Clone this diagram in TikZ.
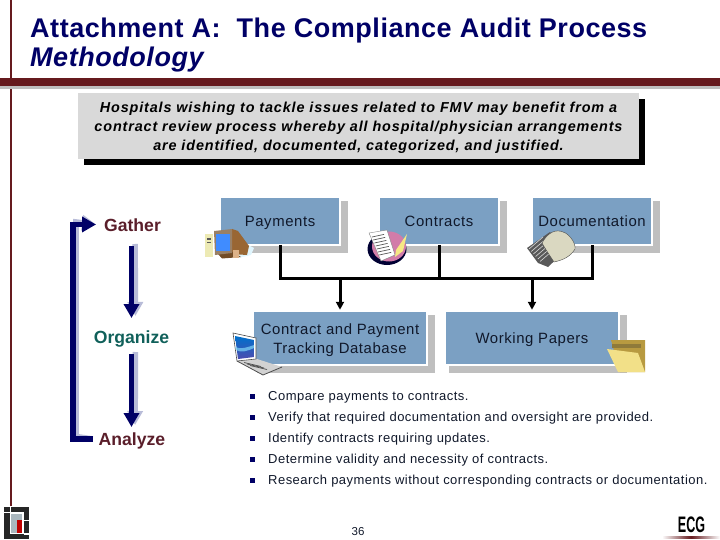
\documentclass[tikz,border=0pt]{standalone}
\usepackage{fontspec}
\setmainfont{Liberation Sans}
\newfontfamily\boxf[LetterSpace=4]{Liberation Sans}
\newfontfamily\listf[LetterSpace=3.7]{Liberation Sans}
\newfontfamily\callf[LetterSpace=6]{Liberation Sans}
\newfontfamily\titlef[LetterSpace=2]{Liberation Sans}
\usetikzlibrary{arrows.meta,backgrounds,calc}
\definecolor{navy}{HTML}{000066}
\definecolor{bar}{HTML}{661A1E}
\definecolor{boxblue}{HTML}{7BA0C3}
\definecolor{shadowgray}{HTML}{BFBFBF}
\definecolor{callgray}{HTML}{D9D9D9}
\definecolor{maroon}{HTML}{5A1E2A}
\definecolor{teal2}{HTML}{10605A}
\definecolor{arrowshade}{HTML}{B8BCD8}
\definecolor{ink}{HTML}{10182A}
\definecolor{folderback}{HTML}{B89A40}
\definecolor{folderstripe}{HTML}{8F7A3A}
\definecolor{folderfront}{HTML}{F2E088}
\tikzset{
  titletext/.style={anchor=base west,inner sep=0,text=navy,font=\titlef\bfseries\fontsize{27}{30}\selectfont},
  calltext/.style={align=center,inner sep=0,font=\callf\bfseries\itshape\fontsize{14.4}{19}\selectfont,text=black},
  stage/.style={inner sep=0,font=\bfseries\fontsize{17.6}{20}\selectfont},
  bluebox/.style={fill=boxblue,draw=white,line width=1.5pt,align=center,inner sep=0,outer sep=0,text=ink,font=\boxf\fontsize{14.9}{19}\selectfont},
  flow/.style={line width=3pt,draw=black},
  flowtip/.style={flow,-{Triangle[length=8pt,width=8pt]},shorten >=1.5pt},
  fat/.style={line width=5.6pt,draw=navy,-{Triangle[length=14pt,width=15pt]}},
  fatshade/.style={line width=5.6pt,draw=arrowshade,-{Triangle[length=14pt,width=15pt]}},
  listtext/.style={anchor=west,inner sep=0,text=ink,font=\listf\fontsize{13}{15}\selectfont},
  sq/.style={fill=navy,minimum size=5pt,inner sep=0}
}
\newcommand{\shadowof}[1]{\fill[shadowgray] ([shift={(4,4)}]#1.north west) rectangle ([shift={(8,8)}]#1.south east);}
\newcommand{\lw}[1]{\rule[-3.1pt]{0pt}{17pt}#1}
\begin{document}
\begin{tikzpicture}[x=1pt,y=-1pt]
\useasboundingbox (0,0) rectangle (720,540);
% frame
\fill[bar] (10,0) rectangle (12,506);
\fill[shadowgray] (0,86) rectangle (720,88.7);
\fill[bar] (0,78.3) rectangle (720,86);
% title
\node[titletext] (t1) at (30,37.5) {Attachment A:\ \ The Compliance Audit Process};
\node[titletext,font=\titlef\bfseries\itshape\fontsize{27}{30}\selectfont] (t2) at (30,66.5) {Methodology};
% callout
\fill[black] (84,99) rectangle (645,165);
\fill[callgray] (78,93) rectangle (638.7,159);
\node[calltext] (call) at (358.5,127.8) {Hospitals wishing to tackle issues related to FMV may benefit from a\\contract review process whereby all hospital/physician arrangements\\are identified, documented, categorized, and justified.};
% stages
\node[stage,text=maroon] (gather) at (132.5,225) {Gather};
\node[stage,text=teal2] (organize) at (131.5,339) {Organize};
\node[stage,text=maroon] (analyze) at (132,441) {Analyze};
\coordinate (loopstart) at (92.7,439);
\coordinate (looptip) at (96,224.5);
\begin{scope}[shift={(3,-2.5)}]
\draw[fatshade] (loopstart) -- (73,439) -- (73,224.5) -- (looptip);
\end{scope}
\draw[fatshade,shorten <=21pt,shorten >=21pt] (135,223) -- (135.5,337);
\draw[fatshade,shorten <=15pt,shorten >=14pt] (135.5,337) -- (135,439);
\draw[fat] (loopstart) -- (73,439) -- (73,224.5) -- (looptip);
\draw[fat,shorten <=21pt,shorten >=21pt] (gather.center -| organize) -- (organize.center);
\draw[fat,shorten <=15pt,shorten >=14pt] (organize.center) -- (analyze.center -| organize);
% boxes
\node[bluebox,minimum width=119.5pt,minimum height=47.5pt] (pay) at (280,221) {\lw{Payments}};
\node[bluebox,minimum width=119.5pt,minimum height=47.5pt] (con) at (439,221) {\lw{Contracts}};
\node[bluebox,minimum width=119.5pt,minimum height=47.5pt] (docs) at (592,221) {\lw{Documentation}};
\node[bluebox,minimum width=173.5pt,minimum height=53.5pt] (db) at (340,338) {\rule{0pt}{15pt}Contract and Payment\\Tracking Database};
\node[bluebox,minimum width=173.5pt,minimum height=53.5pt] (wp) at (532,338) {\lw{Working Papers}};
\begin{scope}[on background layer]
\shadowof{pay}\shadowof{con}\shadowof{docs}\shadowof{db}\shadowof{wp}
\end{scope}
% connectors
\coordinate (bus) at (0,278);
\draw[flow] (pay.south) |- (docs.south |- bus) -- (docs.south);
\draw[flow] (con.south) -- (con.south |- bus);
\draw[flowtip] (db.north |- bus) -- (db.north);
\draw[flowtip] (wp.north |- bus) -- (wp.north);
% computer icon
\fill[cyan!12!white] (238,240) -- (254,248) -- (251,255) -- (238,258) -- cycle;
\fill[brown!80!black] (232,229) -- (238,231) -- (249,246) -- (247,255) -- (232,254) -- cycle;
\fill[brown!60!black] (218,254) -- (233,252) -- (241,257) -- (222,258.5) -- cycle;
\fill[gray!60!brown] (214,231) -- (232,229) -- (232,253) -- (215,255) -- cycle;
\fill[blue!60!cyan!75] (216,233.5) rectangle (230,251);
\fill[gray!40!yellow!40!white] (204.5,234) rectangle (213,256.5);
\fill[gray!70!black] (207,238) rectangle (211,240);
\fill[gray!70!black] (207,242) rectangle (211,243);
\fill[gray!45!orange!60] (233,250) rectangle (239,258);
% contracts icon
\fill[black!80!blue] (387,249) circle[x radius=19.5pt,y radius=16pt];
\fill[violet!35!pink] (389,246.5) circle[x radius=17pt,y radius=15pt];
\fill[white,draw=gray,line width=.4pt] (369,233) -- (387,230) -- (395,255) -- (381,261) -- cycle;
\foreach \d in {0,...,6}{\draw[gray!70!black,line width=.7pt] ($(372,237)+(\d*1.2,\d*3)$) -- ++(12,-2.6);}
\fill[yellow!45!white!85!brown] (396,250) -- (407,234) -- (403,251) -- (395,257) -- cycle;
% documents icon
\fill[gray!70!black] (527,248) -- (550,232) -- (566,250) -- (548,267) -- (538,263) -- cycle;
\foreach \d in {0,...,5}{\draw[white!70!gray,line width=.6pt] ($(529,249)+(\d*2.2,\d*2.5)$) -- ++(14,-12);}
\fill[yellow!25!gray!45!white,draw=gray!60!black,line width=.4pt] (542,243) .. controls (548,232) and (556,229) .. (563,232) .. controls (570,234) and (576,244) .. (575,249) .. controls (570,257) and (563,260) .. (554,262) .. controls (550,256) and (546,250) .. (542,243) -- cycle;
% laptop icon
\fill[gray!35] (237,361) -- (257,359) -- (282,367) -- (263,375) -- cycle;
\draw[black!70,line width=.8pt] (237,361) -- (263,375) -- (282,367);
\foreach \d in {1,...,3}{\draw[gray!60!black,line width=.7pt] ($(241,361)+(\d*3,\d*1.5)$) -- ++(17,4);}
\fill[white,draw=gray!60!black,line width=.6pt] (233,333) -- (256,338) -- (256,359) -- (237,361) -- cycle;
\shade[top color=blue!45!cyan!80!black,bottom color=blue!55!black!70] (235,336) -- (254,340) -- (254,357) -- (238,359) -- cycle;
\fill[white!50!cyan,opacity=.7] (235,347) .. controls (241,350) and (248,347) .. (254,345) -- (254,348) .. controls (248,351) and (241,353) .. (236,350) -- cycle;
% folder icon
\fill[folderback] (611,340) -- (645,340) -- (645,372) -- (620,372) -- cycle;
\fill[folderstripe] (612,344) rectangle (641,348);
\fill[folderfront] (607,349) -- (638,353) -- (645,372) -- (618,372) -- cycle;
% list
\foreach \n/\y in {a/396,b/417,c/438,d/459,e/480}{\node[sq] (b\n) at (252.5,\y) {};}
\node[listtext] (la) at (268,397) {Compare payments to contracts.};
\node[listtext] (lb) at (268,418) {Verify that required documentation and oversight are provided.};
\node[listtext] (lc) at (268,439) {Identify contracts requiring updates.};
\node[listtext] (ld) at (268,460) {Determine validity and necessity of contracts.};
\node[listtext] (le) at (268,481) {Research payments without corresponding contracts or documentation.};
% page number
\node[inner sep=0,text=ink,font=\fontsize{11.5}{14}\selectfont] (pg) at (358,532) {36};
% left logo
\fill[black!85] (4,507) rectangle (29,539);
\fill[white] (9.5,507) rectangle (11,512);
\fill[white] (9.5,512) rectangle (24,534);
\fill[white] (4,512) rectangle (9.5,513);
\fill[white] (24,533) rectangle (29,534.5);
\fill[white] (24,520) rectangle (29,521);
\fill[gray!40!cyan!25!white!75!black] (11,513.5) rectangle (22,532.5);
\fill[red!75!black] (17,520) rectangle (22,532.5);
% ECG logo
\node[inner sep=0,text=black,xscale=.56,font=\bfseries\fontsize{22.4}{24}\selectfont] (ecg) at (691.5,525) {ECG};
\shade[left color=white,right color=white,middle color=bar] (662,536.5) rectangle (720,538);
\end{tikzpicture}
\end{document}
